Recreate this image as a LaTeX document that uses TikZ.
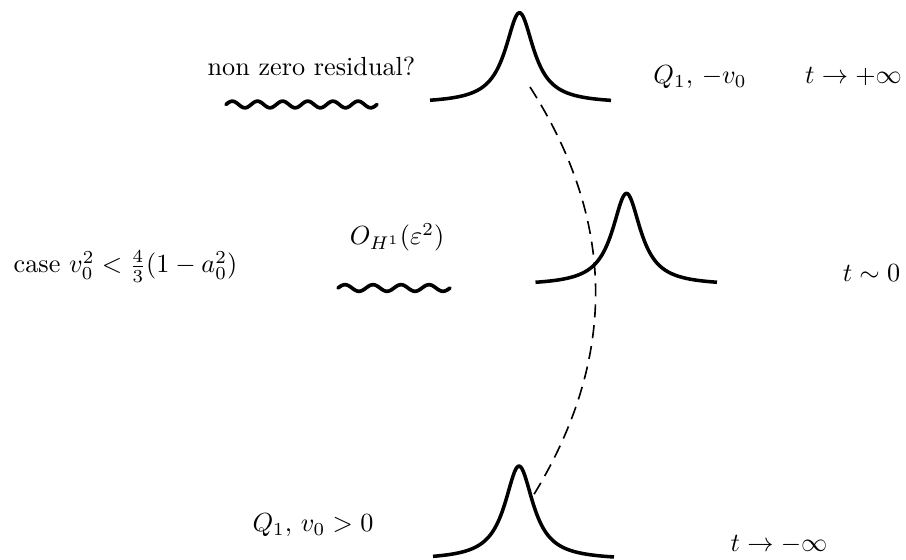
\documentclass[tikz,border=0pt]{standalone}
\usepackage{amsmath}
\begin{document}
\begin{tikzpicture}[x=0.3817pt,y=-0.3817pt,
  soliton/.style={line width=1.35pt,line join=round},
  residue/.style={line width=1.4pt,line cap=round},
  traj/.style={line width=0.62pt,dash pattern=on 5pt off 3pt},
  lab/.style={anchor=base,inner sep=0pt}]
\useasboundingbox (0,0) rectangle (906,560);
% solitons (Lorentzian profile)
\draw[soliton] plot[domain=-89.5:91.5,samples=121] ({519.5+\x},{103.5-90.8/(1+(\x/17.3)^2)});
\draw[soliton] plot[domain=-91:90.5,samples=121] ({626.5+\x},{285.5-92.2/(1+(\x/17.3)^2)});
\draw[soliton] plot[domain=-86:95,samples=121] ({519+\x},{560-94/(1+(\x/17.3)^2)});
% radiation
\draw[residue] plot[domain=0:151,samples=160] ({226+\x},{104.5-3.3*sin(14.3046*\x)});
\draw[residue] plot[domain=0:112,samples=120] ({338+\x},{288-3.3*sin(12.8571*\x)});
% trajectory
\coordinate (ts) at (530,87);
\coordinate (te) at (533,496);
\draw[traj] (ts) .. controls (616,221.3) and (618,357.7) .. (te);
% labels
\node[lab] (res) at (311.5,76) {non zero residual?};
\node[lab] (qtop) at (700,84) {$Q_1,\,-v_0$};
\node[lab] (tplus) at (853.5,84) {$t\to+\infty$};
\node[lab] (case) at (125.5,273) {case $v_0^2<\frac{4}{3}(1-a_0^2)$};
\node[lab] (oh) at (397,245) {$O_{H^1}(\varepsilon^2)$};
\node[lab] (tzero) at (871.5,282) {$t\sim0$};
\node[lab] (qbot) at (313,532) {$Q_1,\,v_0>0$};
\node[lab] (tminus) at (779,552) {$t\to-\infty$};
\end{tikzpicture}
\end{document}
